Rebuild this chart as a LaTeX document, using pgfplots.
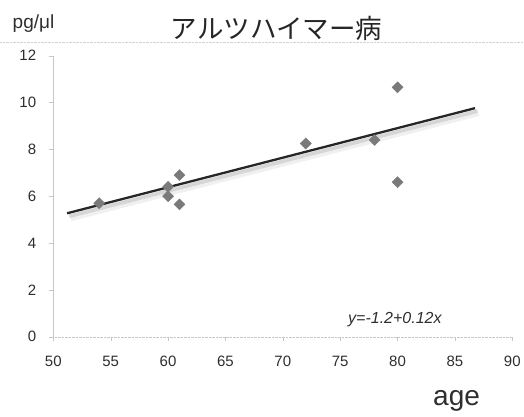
\documentclass[border=0pt]{standalone}
\usepackage{fontspec}
\setmainfont{Liberation Sans}
\newfontfamily\jp{Noto Sans CJK JP}
\usepackage{pgfplots}
\pgfplotsset{compat=1.18}
\definecolor{txt}{HTML}{2E2E2E}
\definecolor{mk}{HTML}{7A7A7A}
\begin{document}
\begin{tikzpicture}
\useasboundingbox (0pt,0pt) rectangle (524pt,-417pt);
\draw[gray!35, densely dotted] (0pt,-42pt) -- (524pt,-42pt);
\begin{axis}[
  at={(53.3pt,-336.7pt)}, anchor=south west,
  scale only axis, width=459pt, height=281pt,
  xmin=50, xmax=90, ymin=0, ymax=12,
  xtick={50,55,...,90}, ytick={0,2,...,12},
  axis x line=bottom, axis y line=left,
  axis line style={-, gray!45},
  x axis line style={densely dotted},
  tick style={gray!45},
  tick align=outside, major tick length=4pt,
  /pgf/number format/assume math mode=true,
  ticklabel style={font=\fontsize{15}{17}\selectfont, text=txt},
  xticklabel style={anchor=center, yshift=-21pt},
  yticklabel style={anchor=east, inner sep=0pt, xshift=-13pt},
  clip=false,
]
\addplot[no marks, line width=7pt, gray!12] coordinates {(51.5,5.08) (87.05,9.57)};
\addplot[no marks, line width=3.5pt, gray!32] coordinates {(51.4,5.14) (86.95,9.63)};
\addplot[only marks, mark=square*, mark size=3.9pt, mark options={rotate=45, fill=mk, draw=mk}] coordinates {
(54,5.7) (60,6.4) (60,6.0) (61,6.9) (61,5.65) (72,8.25) (78,8.4) (80,10.65) (80,6.6)};
\addplot[no marks, line width=2.3pt, black!85] coordinates {(51.2,5.27) (86.75,9.76)};
\end{axis}
\node[anchor=center, text=black!85] at (276.5pt,-28.5pt) {\jp\fontsize{26.5}{30}\selectfont アルツハイマー病};
\node[anchor=base west, inner sep=0pt, text=txt] at (12.5pt,-29pt) {\fontsize{19}{22}\selectfont pg/μl};
\node[anchor=base west, inner sep=0pt, text=txt] at (433pt,-405.8pt) {\fontsize{28}{32}\selectfont age};
\node[anchor=base west, inner sep=0pt, text=txt] at (348pt,-323.5pt) {\fontsize{16}{18}\selectfont\itshape y=-1.2+0.12x};
\end{tikzpicture}
\end{document}
